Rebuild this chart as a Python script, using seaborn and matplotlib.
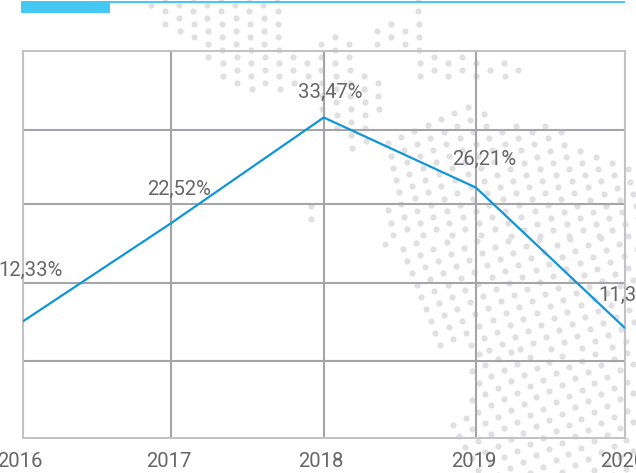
import numpy as np
import pandas as pd
import matplotlib
matplotlib.use("Agg")
import matplotlib.pyplot as plt
from matplotlib.path import Path
from matplotlib.patches import Rectangle
from matplotlib.transforms import ScaledTranslation
import seaborn as sns

# ---- data ----
years = ["2016", "2017", "2018", "2019", "2020"]
year_pos = [2016.0, 2016.986, 2018.0, 2019.01, 2020.0]   # the source spacing is slightly irregular
values = [12.33, 22.52, 33.47, 26.21, 11.66]
value_labels = ["12,33%", "22,52%", "33,47%", "26,21%", "11,3"]
grid_values = [8.24, 16.3, 24.5, 32.2]

# label placement, in pixels relative to the point
label_dx = [8, 8, 6.5, 8, -27]
label_dy = [51, 34, 25, 28, 33]
label_ha = ["center", "center", "center", "center", "left"]

W, H = 636, 473
sns.set_theme(style="white")
plt.rcParams["font.family"] = ["Roboto", "DejaVu Sans"]
TEXT = "#666666"
GRID = "#a5a5a9"
SPINE = "#c2c2c6"
LINE = "#0e96d8"
CYAN = "#45c9f4"
DOT = "#e0e0e2"
FS = 14.6

fig = plt.figure(figsize=(W / 100, H / 100), dpi=100, facecolor="white")

# ---- decorative background (dotted map), in pixel coordinates ----
bg = fig.add_axes([0, 0, 1, 1], zorder=0)
bg.set_xlim(0, W)
bg.set_ylim(H, 0)
bg.axis("off")


def lattice(origin, a, b):
    i, j = np.meshgrid(np.arange(-80, 81), np.arange(-80, 81))
    return np.column_stack([origin[0] + i.ravel() * a[0] + j.ravel() * b[0],
                            origin[1] + i.ravel() * a[1] + j.ravel() * b[1]])


def inside(pts, poly):
    return pts[Path(poly).contains_points(pts)]


top_lat = lattice((165, 11.3), (14.25, 6.5), (0.35, 13))
mid_lat = lattice((489, 138), (16, 6.2), (13.3, -6))
band_lat = lattice((384.7, 243.7), (17.8, 5.6), (4.7, 12))
low_lat = lattice((485, 365), (19.3, 4.9), (6.4, 11.3))

blob_a = [(145, -4), (285, -4), (285, 45), (302, 55), (306, 92), (248, 94), (218, 80), (203, 48), (158, 32)]
blob_b = [(328, 33), (352, 40), (360, 72), (386, 78), (376, 122), (378, 148), (352, 150), (330, 122), (312, 96), (300, 60)]
blob_c = [(374, 26), (405, 20), (410, -4), (426, -4), (426, 40), (445, 50), (485, 60), (528, 66), (528, 78), (420, 80), (416, 56), (375, 46)]
blob_mid = [(378, 150), (403, 130), (429, 120), (452, 104), (490, 104), (490, 122), (548, 122),
            (585, 150), (640, 170), (640, 238), (378, 238), (394, 190)]
blob_band = [(378, 238), (640, 238), (640, 352), (476, 352), (441, 348), (412, 290)]
blob_low = [(476, 352), (640, 352), (640, 478), (464, 478), (450, 425), (470, 400), (468, 355)]
blob_spot = [(311, 202), (324, 202), (324, 226), (311, 226)]

dots = np.vstack([
    inside(top_lat, blob_a),
    inside(top_lat, blob_b),
    inside(top_lat, blob_c),
    inside(top_lat, blob_spot),
    inside(mid_lat, blob_mid),
    inside(band_lat, blob_band),
    inside(low_lat, blob_low),
])
bg.scatter(dots[:, 0], dots[:, 1], s=(6.2 * 0.72) ** 2, color=DOT, linewidths=0, zorder=1)

# top accent bar
bg.add_patch(Rectangle((21, 1), 604, 2, color=CYAN, lw=0, zorder=3))
bg.add_patch(Rectangle((21, 1), 89, 12, color=CYAN, lw=0, zorder=3))

# ---- chart ----
ax = fig.add_axes([22.5 / W, 1 - 438 / H, (625 - 22.5) / W, (438 - 51.5) / H], zorder=2)
ax.patch.set_alpha(0)

df = pd.DataFrame({"year": year_pos, "value": values})
sns.lineplot(data=df, x="year", y="value", ax=ax, color=LINE, linewidth=1.6, zorder=5,
             solid_capstyle="butt", solid_joinstyle="miter", clip_on=True)

ax.set_xlim(2016, 2020)
ax.set_ylim(0.28, 40.3)
ax.set_xlabel("")
ax.set_ylabel("")
ax.set_xticks(year_pos)
ax.set_xticklabels(years, fontsize=FS, color=TEXT)
ax.set_yticks(grid_values)
ax.set_yticklabels([])
ax.tick_params(axis="both", length=0, pad=10)
ax.grid(True, color=GRID, linewidth=1.5, zorder=1)
ax.set_axisbelow(True)
for s in ax.spines.values():
    s.set_color(SPINE)
    s.set_linewidth(1.4)
    s.set_zorder(2)

shift = ScaledTranslation(-2.5 / 100, 0, fig.dpi_scale_trans)
for lab in ax.get_xticklabels():
    lab.set_transform(lab.get_transform() + shift)

for x, y, t, dx, dy, ha in zip(year_pos, values, value_labels, label_dx, label_dy, label_ha):
    ax.annotate(t, (x, y), xytext=(dx * 0.72, dy * 0.72), textcoords="offset points",
                ha=ha, va="center", fontsize=FS, color=TEXT, zorder=6,
                annotation_clip=False)

fig.savefig("out.png", dpi=100)
